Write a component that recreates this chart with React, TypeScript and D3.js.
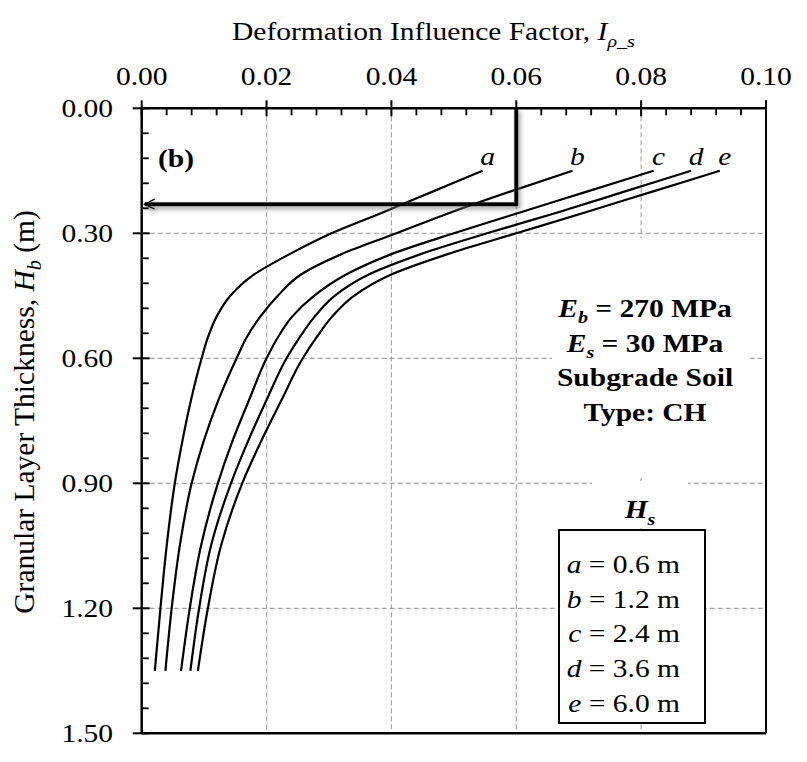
import React from 'react';
import * as d3 from 'd3';

const W = 807;
const H = 762;
const SX = 1.18; // the reference text is wider than its height suggests
const FONT = "'Liberation Serif', 'Times New Roman', serif";

// depth (m) sampled for every curve
const depths = [0.15, 0.20, 0.25, 0.30, 0.35, 0.40, 0.45, 0.50, 0.55, 0.60, 0.70, 0.80, 0.90, 1.05, 1.20, 1.35];
// deformation influence factor for each H_s curve
const curveA = [0.0546, 0.0466, 0.0386, 0.0304, 0.0237, 0.0179, 0.0142, 0.0120, 0.0106, 0.0096, 0.0079, 0.0065, 0.0053, 0.0040, 0.0030, 0.0021];
const curveB = [0.0690, 0.0590, 0.0495, 0.0408, 0.0320, 0.0254, 0.0218, 0.0190, 0.0168, 0.0152, 0.0123, 0.0099, 0.0080, 0.0061, 0.0048, 0.0038];
const curveC = [0.0820, 0.0713, 0.0606, 0.0500, 0.0400, 0.0326, 0.0276, 0.0241, 0.0218, 0.0200, 0.0172, 0.0145, 0.0122, 0.0095, 0.0077, 0.0063];
const curveD = [0.0880, 0.0773, 0.0666, 0.0553, 0.0447, 0.0362, 0.0309, 0.0277, 0.0253, 0.0232, 0.0200, 0.0170, 0.0143, 0.0111, 0.0092, 0.0078];
const curveE = [0.0926, 0.0818, 0.0710, 0.0600, 0.0490, 0.0398, 0.0340, 0.0305, 0.0280, 0.0258, 0.0224, 0.0191, 0.0161, 0.0127, 0.0106, 0.0090];

const curveNames = ['a', 'b', 'c', 'd', 'e'];
const hsValues = ['0.6', '1.2', '2.4', '3.6', '6.0'];
const xTicks = [0, 0.02, 0.04, 0.06, 0.08, 0.10];
const yTicks = [0, 0.3, 0.6, 0.9, 1.2, 1.5];
const notes = ['270 MPa', '30 MPa', 'Subgrade Soil', 'Type: CH'];

// reading example: I = 0.06 -> Hb = 0.23 m
const arrowFactor = 0.06;
const arrowDepth = 0.23;

const x = d3.scaleLinear().domain([0, 0.1]).range([141.7, 766]);
const y = d3.scaleLinear().domain([0, 1.5]).range([108.3, 733.3]);

const T = ({ x, y, anchor = 'start', size = 25, weight = 'normal', italic = false, sx = SX, rotate = 0, children }: any) => (
  <text
    transform={`translate(${x},${y}) scale(${sx},1)${rotate ? ` rotate(${rotate})` : ''}`}
    textAnchor={anchor}
    fontSize={size}
    fontWeight={weight}
    fontStyle={italic ? 'italic' : 'normal'}
    fontFamily={FONT}
    fill="#000"
  >
    {children}
  </text>
);

const App = () => {
  const series = [curveA, curveB, curveC, curveD, curveE];
  const line = d3
    .line<number>()
    .x((d) => x(d))
    .y((_, i) => y(depths[i]))
    .curve(d3.curveMonotoneY);

  const xMinor = d3.range(0, 0.1001, 0.004).filter((v) => Math.abs(v / 0.02 - Math.round(v / 0.02)) > 1e-6);
  const yMinor = d3.range(0, 1.5001, 0.06).filter((v) => Math.abs(v / 0.3 - Math.round(v / 0.3)) > 1e-6);
  const [x0, x1] = x.range();
  const [y0, y1] = y.range();
  const grid = '#a6a6a6';

  return (
    <div style={{ position: 'absolute', left: 0, top: 0 }}>
      <svg width={W} height={H} viewBox={`0 0 ${W} ${H}`} style={{ display: 'block', background: '#fff' }}>
        <defs>
          <filter id="shadow" x="-10%" y="-10%" width="130%" height="140%">
            <feDropShadow dx="2" dy="3" stdDeviation="2" floodColor="#777" floodOpacity="0.7" />
          </filter>
        </defs>

        {/* grid */}
        <g stroke={grid} strokeWidth={1.2} strokeDasharray="5,3">
          {xTicks.slice(1, -1).map((t) => (
            <line key={'gx' + t} x1={x(t)} x2={x(t)} y1={y0} y2={y1} />
          ))}
          {yTicks.slice(1, -1).map((t) => (
            <line key={'gy' + t} x1={x0} x2={x1} y1={y(t)} y2={y(t)} />
          ))}
        </g>

        {/* curves */}
        <g fill="none" stroke="#000" strokeWidth={2.2}>
          {series.map((s, i) => (
            <path key={curveNames[i]} d={line(s) || ''} />
          ))}
        </g>
        {series.map((s, i) => (
          <T key={'lab' + i} x={x(s[0]) + 5} y={y(depths[0]) - 6} anchor="middle" italic>
            {curveNames[i]}
          </T>
        ))}

        {/* annotation */}
        <rect x={552} y={238} width={196} height={240} fill="#fff" />
        {notes.map((n, i) => (
          <T key={n} x={645} y={317 + i * 34.7} anchor="middle" weight="bold">
            {i < 2 ? (
              <>
                <tspan fontStyle="italic">E</tspan>
                <tspan fontStyle="italic" fontSize={17} dy={6}>{i === 0 ? 'b' : 's'}</tspan>
                <tspan dy={-6}>{' = ' + n}</tspan>
              </>
            ) : (
              n
            )}
          </T>
        ))}

        {/* legend */}
        <rect x={592} y={481} width={96} height={47} fill="#fff" />
        <T x={640} y={518} anchor="middle" weight="bold" italic>
          H<tspan fontSize={17} dy={7}>s</tspan>
        </T>
        <rect x={559} y={530} width={146} height={193} fill="#fff" stroke="#000" strokeWidth={2} />
        {curveNames.map((n, i) => (
          <T key={'lg' + n} x={680} y={573 + i * 34.7} anchor="end">
            <tspan fontStyle="italic">{n}</tspan>
            {' = ' + hsValues[i] + ' m'}
          </T>
        ))}

        <T x={158} y={167} weight="bold">(b)</T>

        {/* arrow */}
        <g filter="url(#shadow)">
          <path
            d={`M${x(arrowFactor)},${y(0)} V${y(arrowDepth)} H${x(0) + 3}`}
            fill="none"
            stroke="#000"
            strokeWidth={4}
          />
          <path
            d={`M${x(0) + 13},${y(arrowDepth) - 5} L${x(0) + 3},${y(arrowDepth)} L${x(0) + 13},${y(arrowDepth) + 5}`}
            fill="none"
            stroke="#000"
            strokeWidth={1.5}
          />
        </g>

        {/* frame */}
        <g stroke="#000">
          <line x1={x0} x2={x1} y1={y0} y2={y0} strokeWidth={2.5} />
          <line x1={x0} x2={x0} y1={y0} y2={y1} strokeWidth={2.5} />
          <line x1={x1} x2={x1} y1={y0} y2={y1} strokeWidth={2} />
          <line x1={x0} x2={x1} y1={y1} y2={y1} strokeWidth={2.5} />
          {xTicks.map((t) => (
            <line key={'xt' + t} x1={x(t)} x2={x(t)} y1={y0 - 8} y2={y0 + 8} strokeWidth={2} />
          ))}
          {xMinor.map((t) => (
            <line key={'xm' + t} x1={x(t)} x2={x(t)} y1={y0} y2={y0 + 7} strokeWidth={1.8} />
          ))}
          {yTicks.map((t) => (
            <line key={'yt' + t} x1={x0 - 9} x2={x0 + 8} y1={y(t)} y2={y(t)} strokeWidth={2} />
          ))}
          {yMinor.map((t) => (
            <line key={'ym' + t} x1={x0} x2={x0 + 7} y1={y(t)} y2={y(t)} strokeWidth={1.8} />
          ))}
        </g>

        {xTicks.map((t) => (
          <T key={'xl' + t} x={x(t)} y={85} anchor="middle">
            {d3.format('.2f')(t)}
          </T>
        ))}
        {yTicks.map((t) => (
          <T key={'yl' + t} x={113} y={y(t) + 8.5} anchor="end">
            {d3.format('.2f')(t)}
          </T>
        ))}

        <T x={232} y={40}>
          Deformation Influence Factor,{' '}
          <tspan fontStyle="italic">I</tspan>
          <tspan fontStyle="italic" fontSize={17} dy={7}>ρ_s</tspan>
        </T>
        <T x={34} y={412} anchor="middle" rotate={-90} size={29.5} sx={1}>
          Granular Layer Thickness, <tspan fontStyle="italic">H</tspan>
          <tspan fontStyle="italic" fontSize={20} dy={7}>b</tspan>
          <tspan dy={-7}> (m)</tspan>
        </T>
      </svg>
    </div>
  );
};

export default App;
